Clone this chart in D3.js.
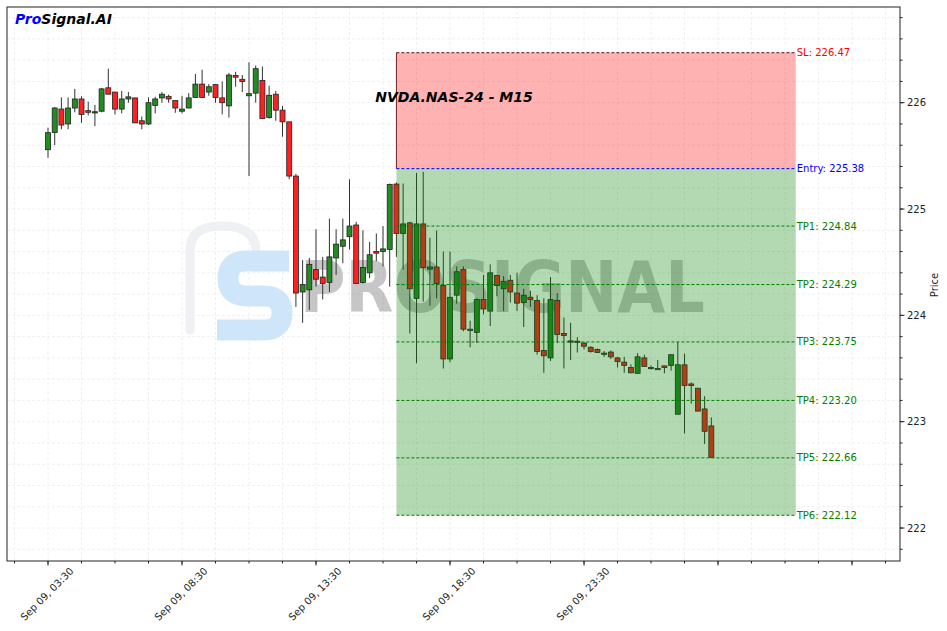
<!DOCTYPE html>
<html><head><meta charset="utf-8">
<script src="https://cdn.jsdelivr.net/npm/d3@7"></script>
<style>body{margin:0;background:#fff}svg{display:block;font-family:"DejaVu Sans",sans-serif}</style>
</head><body><svg id="c" width="947" height="631"></svg>
<script>
const opens=[225.558,225.72,225.94,225.80,225.95,226.035,225.925,225.915,225.92,226.14,226.10,225.94,226.035,226.045,225.83,225.80,225.975,226.045,226.06,226.02,225.92,225.95,226.05,226.175,226.10,226.17,226.045,225.97,226.255,226.22,226.065,226.09,226.21,225.86,226.08,225.93,225.82,225.31,224.22,224.24,224.43,224.36,224.31,224.54,224.65,224.74,224.85,224.31,224.40,224.60,224.60,224.62,225.235,224.77,224.87,224.16,224.86,224.435,224.455,224.28,223.59,224.19,224.43,223.87,223.84,224.15,224.04,224.375,224.25,224.33,224.21,224.12,224.17,224.14,223.67,223.60,224.14,223.83,223.76,223.757,223.74,223.70,223.68,223.645,223.655,223.60,223.56,223.51,223.455,223.60,223.51,223.50,223.525,223.53,223.07,223.535,223.355,223.315,223.12,222.96];
const highs=[225.765,225.96,226.05,226.05,226.13,226.06,226.01,225.98,226.14,226.32,226.10,226.11,226.10,226.045,225.87,226.05,226.055,226.10,226.075,226.02,226.065,226.09,226.27,226.31,226.175,226.17,226.20,226.28,226.29,226.26,226.38,226.35,226.34,226.16,226.11,225.97,225.82,225.33,224.52,224.54,224.81,224.55,224.91,224.81,224.91,225.28,224.88,224.80,224.69,224.77,224.84,225.24,225.25,225.24,224.88,225.34,225.35,224.73,224.80,224.60,224.60,224.46,224.46,223.95,224.16,224.38,224.48,224.38,224.37,224.38,224.40,224.25,224.23,224.19,224.16,224.36,224.21,223.98,223.93,223.795,223.745,223.71,223.69,223.665,223.67,223.61,223.61,223.54,223.645,223.63,223.53,223.58,223.525,223.63,223.75,223.64,223.37,223.315,223.24,223.04];
const lows=[225.482,225.60,225.75,225.75,225.91,225.81,225.88,225.78,225.91,226.08,225.89,225.90,226.0,225.81,225.75,225.79,225.90,226.0,226.0,225.905,225.90,225.95,226.05,226.045,226.065,226.0,225.89,225.86,226.15,226.10,225.31,226.0,225.85,225.85,225.83,225.68,225.28,224.08,223.93,224.05,224.27,224.15,224.22,224.38,224.49,224.62,224.30,224.30,224.35,224.51,224.46,224.27,224.55,224.43,223.83,223.55,224.13,224.09,224.16,223.50,223.56,224.11,223.85,223.70,223.74,224.01,223.90,224.18,224.04,224.12,224.04,223.89,224.08,223.63,223.46,223.57,223.74,223.50,223.58,223.65,223.68,223.65,223.645,223.61,223.59,223.51,223.46,223.455,223.455,223.52,223.49,223.50,223.455,223.48,223.07,222.89,223.17,223.095,222.79,222.665];
const closes=[225.718,225.95,225.79,225.95,226.035,225.89,225.91,225.915,226.13,226.08,225.94,226.035,226.055,225.81,225.80,226.0,226.035,226.08,226.035,225.95,225.94,226.045,226.175,226.05,226.15,226.05,226.0,226.26,226.24,226.20,226.085,226.32,225.85,226.07,225.93,225.82,225.31,224.21,224.29,224.48,224.34,224.30,224.55,224.67,224.71,224.84,224.30,224.45,224.57,224.585,224.625,225.23,224.77,224.86,224.25,224.86,224.45,224.455,224.30,223.59,224.17,224.41,223.87,223.86,224.15,224.06,224.40,224.28,224.32,224.22,224.115,224.19,224.15,223.66,223.62,224.15,223.82,223.81,223.76,223.753,223.71,223.66,223.65,223.645,223.61,223.565,223.53,223.46,223.61,223.52,223.51,223.50,223.51,223.63,223.535,223.34,223.34,223.10,222.91,222.665];
const levelNames=["SL","Entry","TP1","TP2","TP3","TP4","TP5","TP6"];
const levelValues=[226.47,225.38,224.84,224.29,223.75,223.20,222.66,222.12];
const levelColors=["red","blue","green","green","green","green","green","green"];
const entryIndex=52, zoneEndIndex=111.6;
const majorTickIdx=[0,20,40,60,80,100,120];
const xTickLabels=["Sep 09, 03:30","Sep 09, 08:30","Sep 09, 13:30","Sep 09, 18:30","Sep 09, 23:30","",""];
const yTickValues=[222,223,224,225,226];
const title="NVDA.NAS-24 - M15";

const svg=d3.select("#c");
const L=7,T=7,R=900,B=561;
const x=d3.scaleLinear().domain([-6.12,127.16]).range([L,R]);
const y=d3.scaleLinear().domain([221.69,226.90]).range([B,T]);

// grid
const minorX=d3.range(-5,127,5);
const minorY=d3.range(0,27).map(i=>+(221.8+i*0.2).toFixed(1)).filter(v=>v<226.9);
const g=svg.append("g");
g.selectAll("line.gx").data(minorX).join("line").attr("x1",d=>x(d)).attr("x2",d=>x(d)).attr("y1",T).attr("y2",B)
 .attr("stroke","#ececec").attr("stroke-dasharray","3,2").attr("stroke-width",0.8);
g.selectAll("line.gy").data(minorY).join("line").attr("y1",d=>y(d)).attr("y2",d=>y(d)).attr("x1",L).attr("x2",R)
 .attr("stroke","#ececec").attr("stroke-dasharray","3,2").attr("stroke-width",0.8);

// watermark
const wm=svg.append("g");
wm.append("path").attr("d","M190,330 V250 Q190,226 222,226 Q256,226 256,252 V268")
 .attr("fill","none").attr("stroke","#eef0f3").attr("stroke-width",9).attr("stroke-linecap","round");
wm.append("path").attr("d","M289,261 H246 Q228,261 228,279 Q228,296 248,296 H264 Q282,296 282,313 Q282,330 263,330 H217")
 .attr("fill","none").attr("stroke","#cfe6fa").attr("stroke-width",21);
wm.append("text").attr("x",300).attr("y",312).text("PROSIGNAL")
 .attr("font-size",72).attr("font-weight","bold").attr("fill","#808080").attr("fill-opacity",0.45)
 .attr("textLength",405).attr("lengthAdjust","spacingAndGlyphs");

// candles
const idx=d3.range(opens.length);
const cg=svg.append("g");
cg.selectAll("line.w").data(idx).join("line").attr("x1",i=>x(i)).attr("x2",i=>x(i))
 .attr("y1",i=>y(highs[i])).attr("y2",i=>y(lows[i])).attr("stroke","#333").attr("stroke-width",1);
const bw=5;
cg.selectAll("rect.b").data(idx).join("rect").attr("x",i=>x(i)-bw/2).attr("width",bw)
 .attr("y",i=>y(Math.max(opens[i],closes[i])))
 .attr("height",i=>Math.max(1.2,Math.abs(y(opens[i])-y(closes[i]))))
 .attr("fill",i=>closes[i]>=opens[i]?"#228B22":"#ff2020").attr("stroke","#222").attr("stroke-width",0.8);

// zones
svg.append("rect").attr("x",x(entryIndex)).attr("width",x(zoneEndIndex)-x(entryIndex))
 .attr("y",y(levelValues[0])).attr("height",y(levelValues[1])-y(levelValues[0])).attr("fill","red").attr("fill-opacity",0.3);
svg.append("rect").attr("x",x(entryIndex)).attr("width",x(zoneEndIndex)-x(entryIndex))
 .attr("y",y(levelValues[1])).attr("height",y(levelValues[7])-y(levelValues[1])).attr("fill","green").attr("fill-opacity",0.3);
svg.append("line").attr("x1",x(entryIndex)).attr("x2",x(entryIndex)).attr("y1",y(levelValues[0])).attr("y2",y(levelValues[1]))
 .attr("stroke","#6a2020").attr("stroke-width",1);

// level lines + labels
const lv=svg.append("g");
levelValues.forEach((v,i)=>{
  lv.append("line").attr("x1",x(entryIndex)).attr("x2",x(zoneEndIndex)).attr("y1",y(v)).attr("y2",y(v))
    .attr("stroke",i===0?"#5a1010":levelColors[i]).attr("stroke-width",1).attr("stroke-dasharray","3,2");
  lv.append("text").attr("x",x(zoneEndIndex)+1).attr("y",y(v)).attr("dy","0.35em")
    .attr("font-size",10).attr("fill",levelColors[i]).text(levelNames[i]+": "+v.toFixed(2));
});

// frame
svg.append("rect").attr("x",L).attr("y",T).attr("width",R-L).attr("height",B-T).attr("fill","none").attr("stroke","#222").attr("stroke-width",1);

// x axis ticks
const ax=svg.append("g");
ax.selectAll("line.mx").data(minorX.filter(d=>x(d)>=L&&x(d)<=R)).join("line").attr("x1",d=>x(d)).attr("x2",d=>x(d)).attr("y1",B).attr("y2",B+2.5).attr("stroke","#222");
ax.selectAll("line.Mx").data(majorTickIdx).join("line").attr("x1",d=>x(d)).attr("x2",d=>x(d)).attr("y1",B).attr("y2",B+4.5).attr("stroke","#222");
ax.selectAll("text").data(majorTickIdx).join("text")
 .attr("transform",d=>`translate(${x(d)-1},594) rotate(-45)`).attr("text-anchor","middle").attr("dy","0.35em")
 .attr("font-size",10).attr("fill","#222").text((d,i)=>xTickLabels[i]);

// y axis
const ay=svg.append("g");
ay.selectAll("line.my").data(minorY).join("line").attr("x1",R).attr("x2",R+2.5).attr("y1",d=>y(d)).attr("y2",d=>y(d)).attr("stroke","#222");
ay.selectAll("line.My").data(yTickValues).join("line").attr("x1",R).attr("x2",R+4.5).attr("y1",d=>y(d)).attr("y2",d=>y(d)).attr("stroke","#222");
ay.selectAll("text").data(yTickValues).join("text").attr("x",R+7).attr("y",d=>y(d)).attr("dy","0.35em")
 .attr("font-size",10).attr("fill","#222").text(d=>d);
svg.append("text").attr("transform","translate(938,285) rotate(-90)").attr("text-anchor","middle")
 .attr("font-size",10).attr("fill","#222").text("Price");

// title & brand
svg.append("text").attr("x",454).attr("y",102).attr("text-anchor","middle").attr("font-size",14)
 .attr("font-weight","bold").attr("font-style","italic").attr("fill","#000").text(title);
const br=svg.append("text").attr("x",15).attr("y",24).attr("font-size",14).attr("font-weight","bold").attr("font-style","italic");
br.append("tspan").attr("fill","blue").text("Pro");
br.append("tspan").attr("fill","#000").text("Signal.AI");
</script></body></html>
